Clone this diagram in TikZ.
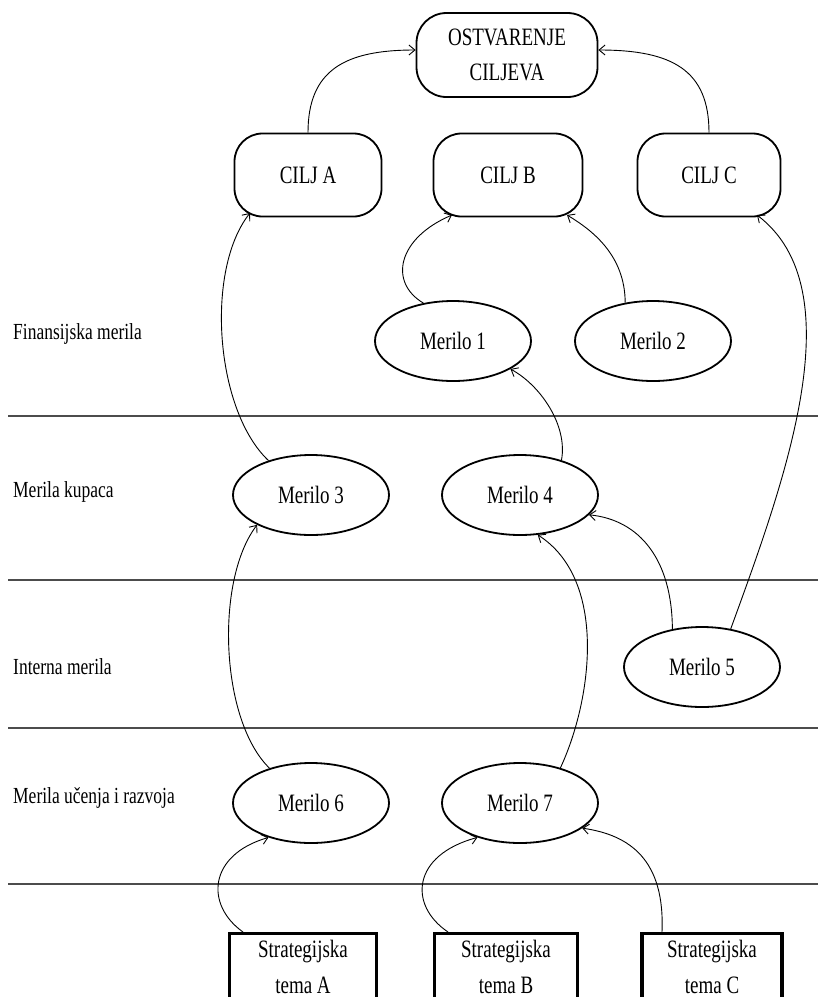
\documentclass[tikz,border=0pt]{standalone}
\usepackage{fontspec}
\setmainfont{Liberation Serif}[FakeStretch=0.76]
\usetikzlibrary{shapes.geometric,arrows.meta}
\begin{document}
\begin{tikzpicture}[x=1pt,y=-1pt,
  every node/.style={font=\fontsize{25}{35}\selectfont},
  rbox/.style={draw,rounded corners=28pt,line width=1.8pt,align=center,inner sep=0pt},
  ell/.style={draw,ellipse,line width=1.8pt,minimum width=156pt,minimum height=80pt,inner sep=0pt},
  tbox/.style={draw,line width=3.2pt,minimum height=90pt,anchor=north,inner sep=0pt},
  txt/.style={anchor=base,inner sep=0pt},
  lane/.style={line width=1.6pt,black!70},
  arr/.style={line width=0.9pt,-{Straight Barb[length=6pt,width=10pt]}},
  lbl/.style={anchor=base west,inner sep=0pt,font=\fontsize{23}{28}\selectfont}]
\useasboundingbox (0,0) rectangle (818,997);
% lanes
\draw[lane] (8,416) -- (818,416);
\draw[lane] (8,580) -- (818,580);
\draw[lane] (8,728) -- (818,728);
\draw[lane] (8,884) -- (818,884);
% lane labels
\node[lbl] (l1) at (13,339) {Finansijska merila};
\node[lbl] (l2) at (13,497) {Merila kupaca};
\node[lbl] (l3) at (13,674) {Interna merila};
\node[lbl] (l4) at (13,803) {Merila učenja i razvoja};
% nodes
\node[rbox,rounded corners=30pt,minimum width=181pt,minimum height=84pt] (goal) at (507,55) {OSTVARENJE\\CILJEVA};
\node[rbox,minimum width=147pt,minimum height=83pt] (ca) at (308,175) {CILJ A};
\node[rbox,minimum width=149pt,minimum height=83pt] (cb) at (508,175) {CILJ B};
\node[rbox,minimum width=143pt,minimum height=83pt] (cc) at (709,175) {CILJ C};
\node[ell] (m1) at (453,341) {Merilo 1};
\node[ell] (m2) at (653,341) {Merilo 2};
\node[ell] (m3) at (311,495) {Merilo 3};
\node[ell] (m4) at (520,495) {Merilo 4};
\node[ell] (m5) at (702,667) {Merilo 5};
\node[ell] (m6) at (311,803) {Merilo 6};
\node[ell] (m7) at (520,803) {Merilo 7};
\node[tbox,minimum width=147pt] (ta) at (303,932) {};
\node[tbox,minimum width=143pt] (tb) at (506,932) {};
\node[tbox,minimum width=140pt] (tc) at (712,932) {};
\node[txt] (ta1) at (303,957) {Strategijska};
\node[txt] (ta2) at (303,993) {tema A};
\node[txt] (tb1) at (506,957) {Strategijska};
\node[txt] (tb2) at (506,993) {tema B};
\node[txt] (tc1) at (712,957) {Strategijska};
\node[txt] (tc2) at (712,993) {tema C};
% connectors
\draw[arr] (ca.north) .. controls (308,70) and (345,50) .. ([yshift=5pt]goal.west);
\draw[arr] (cc.north) .. controls (709,70) and (672,50) .. ([yshift=5pt]goal.east);
\draw[arr] (m3.141) .. controls (215,410) and (205,270) .. ([shift={(-58,38)}]ca.center);
\draw[arr] (m1.128) .. controls (388,282) and (398,238) .. ([shift={(-56,40)}]cb.center);
\draw[arr] (m2.126) .. controls (625,255) and (592,230) .. ([shift={(59,40)}]cb.center);
\draw[arr] (m4.40) .. controls (568,425) and (540,385) .. (m1.-26);
\draw[arr] (m5.53) .. controls (785,480) and (855,290) .. ([shift={(48,40)}]cc.center);
\draw[arr] (m5.128) .. controls (672,560) and (640,520) .. (m4.-16);
\draw[arr] (m6.140) .. controls (220,720) and (215,580) .. (m3.-151);
\draw[arr] (m7.41) .. controls (592,700) and (608,580) .. (m4.-66);
\draw[arr] ([xshift=-60pt]ta.north) .. controls (205,905) and (208,855) .. (m6.-141);
\draw[arr] ([xshift=-58pt]tb.north) .. controls (408,905) and (412,855) .. (m7.-141);
\draw[arr] ([xshift=-50pt]tc.north) .. controls (665,860) and (630,835) .. (m7.-22);
\end{tikzpicture}
\end{document}
